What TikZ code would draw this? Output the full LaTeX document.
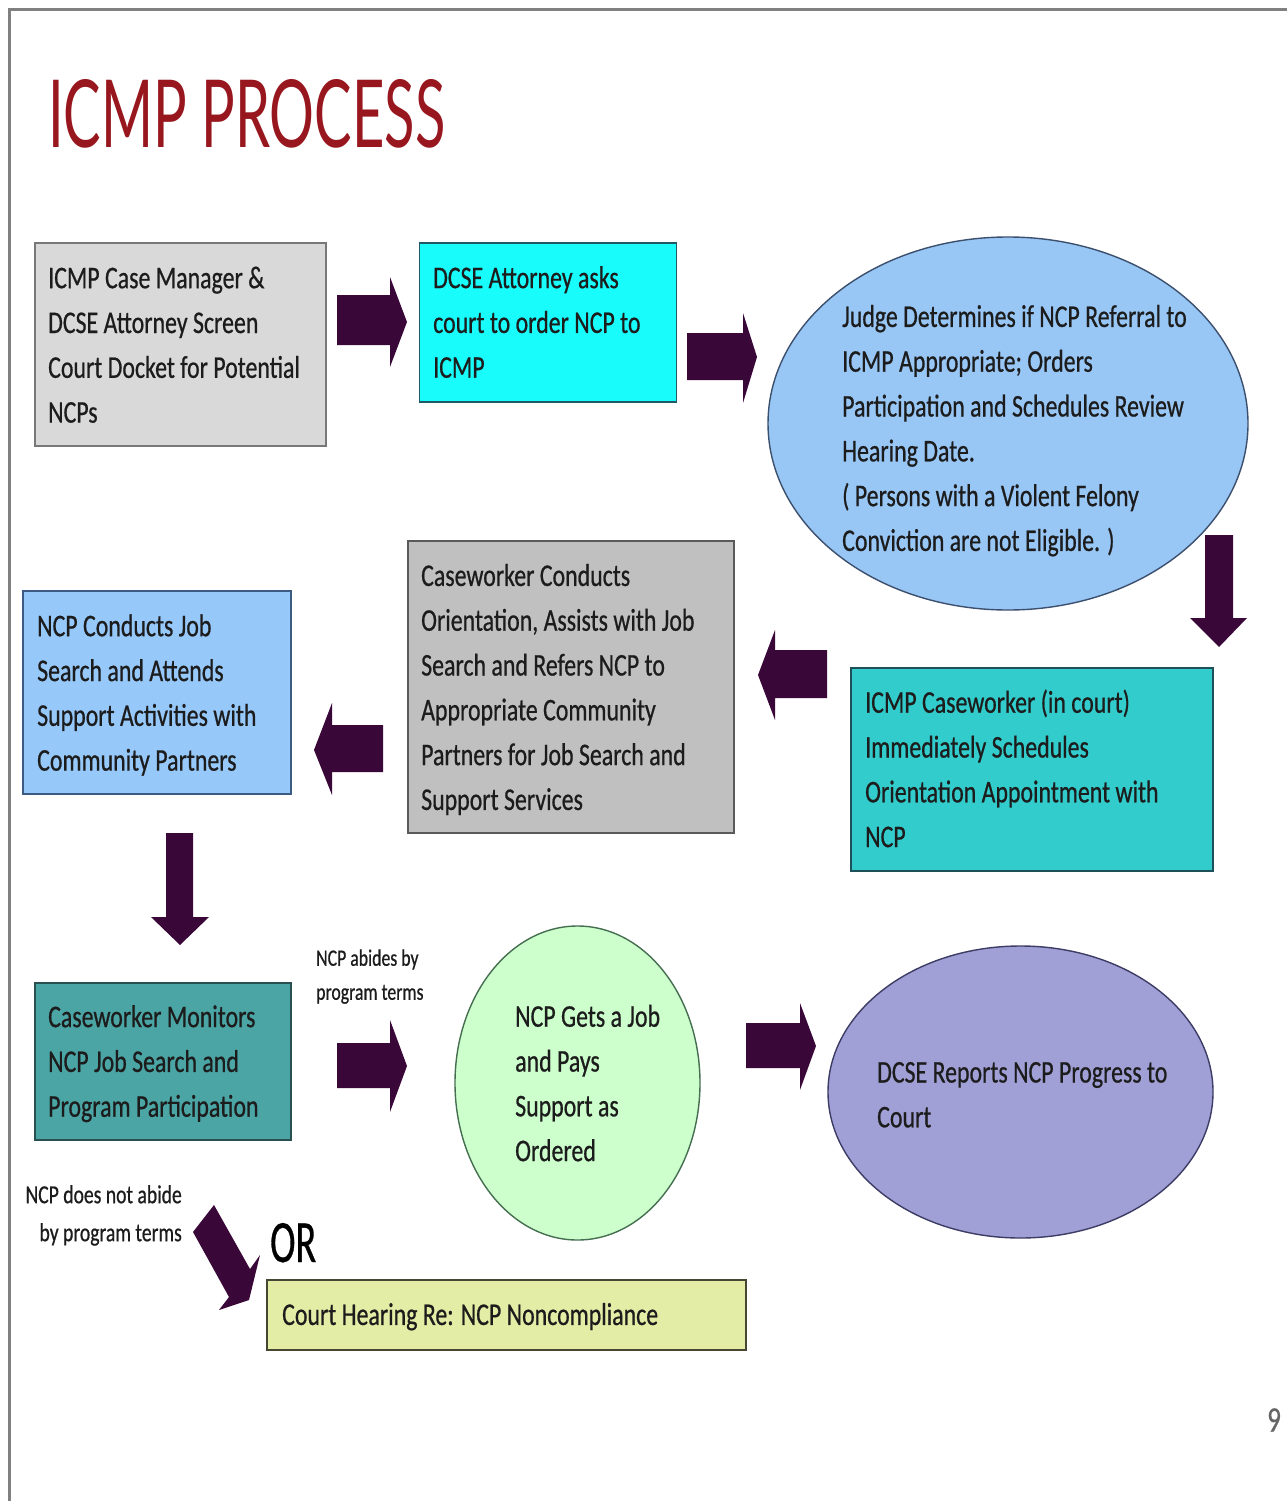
\documentclass[tikz,border=0pt]{standalone}
\usepackage{fontspec}
\usepackage{graphicx}
\setmainfont{Carlito}[FakeStretch=0.755,FakeBold=0.6]
\newfontfamily\titlefont{Lato}
\usetikzlibrary{shapes.geometric}
\definecolor{arrowc}{RGB}{58,8,56}
\definecolor{titlec}{RGB}{152,22,30}
\definecolor{txt}{RGB}{28,28,28}
\definecolor{fA}{RGB}{217,217,217}\definecolor{dA}{RGB}{120,120,120}
\definecolor{fB}{RGB}{25,252,252}\definecolor{dB}{RGB}{30,90,100}
\definecolor{fC}{RGB}{152,198,245}\definecolor{dC}{RGB}{60,80,110}
\definecolor{fD}{RGB}{51,204,204}\definecolor{dD}{RGB}{30,80,90}
\definecolor{fE}{RGB}{192,192,192}\definecolor{dE}{RGB}{90,90,90}
\definecolor{fF}{RGB}{150,200,250}\definecolor{dF}{RGB}{60,90,130}
\definecolor{fG}{RGB}{76,165,165}\definecolor{dG}{RGB}{40,80,80}
\definecolor{fH}{RGB}{204,255,204}\definecolor{dH}{RGB}{70,110,80}
\definecolor{fI}{RGB}{160,160,215}\definecolor{dI}{RGB}{60,60,100}
\definecolor{fJ}{RGB}{228,237,165}\definecolor{dJ}{RGB}{70,70,50}
\newcommand\ls{\rule[-0.38\baselineskip]{0pt}{0.98\baselineskip}}
\tikzset{
  boxshape/.style={rectangle, line width=1.6pt, inner sep=0pt},
  ellshape/.style={ellipse, line width=1.4pt, inner sep=0pt},
  bodytext/.style={anchor=west, align=left, inner sep=0pt, yshift=-5pt, text=txt, font=\fontsize{31.6}{44.8}\selectfont},
  smalltext/.style={inner sep=0pt, yshift=-4pt, text=txt},
  blockarrow/.style={fill=arrowc},
}
\begin{document}
\begin{tikzpicture}[x=1pt,y=-1pt]
\useasboundingbox (0,0) rectangle (1287,1501);
\fill[white] (0,0) rectangle (1287,1501);
% frame
\draw[line width=3pt, color=black!50] (9.5,1501) -- (9.5,9.5) -- (1287,9.5);
% title
\node[anchor=base west, inner sep=0pt, text=titlec] (title) at (48,147) {\resizebox{397pt}{68pt}{\titlefont ICMP PROCESS}};
% shapes
\node[boxshape, fill=fA, draw=dA, minimum width=291pt, minimum height=203pt] (b1) at (180.5,344.5) {};
\node[boxshape, fill=fB, draw=dB, minimum width=257pt, minimum height=159pt] (b2) at (548,322.5) {};
\node[ellshape, fill=fC, draw=dC, minimum width=480pt, minimum height=373pt] (e1) at (1008,423.5) {};
\node[boxshape, fill=fD, draw=dD, minimum width=362pt, minimum height=203pt] (b3) at (1032,769.5) {};
\node[boxshape, fill=fE, draw=dE, minimum width=326pt, minimum height=292pt] (b4) at (571,687) {};
\node[boxshape, fill=fF, draw=dF, minimum width=268pt, minimum height=203pt] (b5) at (157,692.5) {};
\node[boxshape, fill=fG, draw=dG, minimum width=256pt, minimum height=157pt] (b6) at (163,1061.5) {};
\node[ellshape, fill=fH, draw=dH, minimum width=245pt, minimum height=314pt] (e2) at (577.5,1083) {};
\node[ellshape, fill=fI, draw=dI, minimum width=385pt, minimum height=292pt] (e3) at (1020.5,1092) {};
\node[boxshape, fill=fJ, draw=dJ, minimum width=479pt, minimum height=70pt] (b7) at (506.5,1315) {};
% texts
\node[bodytext] (t1) at (48,345.5) {\ls ICMP Case Manager \&\\\ls DCSE Attorney Screen\\\ls Court Docket for Potential\\\ls NCPs};
\node[bodytext] (t2) at (433,323) {\ls DCSE Attorney asks\\\ls court to order NCP to\\\ls ICMP};
\node[bodytext] (t3) at (842,429) {\ls Judge Determines if NCP Referral to\\\ls ICMP Appropriate; Orders\\\ls Participation and Schedules Review\\\ls Hearing Date.\\\ls ( Persons with a Violent Felony\\\ls Conviction are not Eligible. )};
\node[bodytext] (t4) at (865,770) {\ls ICMP Caseworker (in court)\\\ls Immediately Schedules\\\ls Orientation Appointment with\\\ls NCP};
\node[bodytext] (t5) at (421,688) {\ls Caseworker Conducts\\\ls Orientation, Assists with Job\\\ls Search and Refers NCP to\\\ls Appropriate Community\\\ls Partners for Job Search and\\\ls Support Services};
\node[bodytext] (t6) at (37,693.5) {\ls NCP Conducts Job\\\ls Search and Attends\\\ls Support Activities with\\\ls Community Partners};
\node[bodytext] (t7) at (48,1062) {\ls Caseworker Monitors\\\ls NCP Job Search and\\\ls Program Participation};
\node[bodytext] (t8) at (515,1084) {\ls NCP Gets a Job\\\ls and Pays\\\ls Support as\\\ls Ordered};
\node[bodytext] (t9) at (877,1095) {\ls DCSE Reports NCP Progress to\\\ls Court};
\node[bodytext] (t10) at (282,1315) {\ls Court Hearing Re: NCP Noncompliance};
% small labels
\node[smalltext, anchor=west, align=left, font=\fontsize{23.5}{34}\selectfont] (l1) at (316,975) {\ls NCP abides by\\\ls program terms};
\node[smalltext, anchor=east, align=right, font=\fontsize{26}{38}\selectfont] (l2) at (182,1214) {\ls NCP does not abide\\\ls by program terms};
\node[anchor=base west, inner sep=0pt, text=black] (orlabel) at (270,1262) {\resizebox{46pt}{39pt}{OR}};
\node[inner sep=0pt, text=black!60, font=\fontsize{36}{40}\selectfont] (pagenum) at (1274,1420) {9};
% block arrows
\fill[blockarrow] (337,295) -- (390,295) -- (390,277) -- (407,322) -- (390,367) -- (390,345) -- (337,345) -- cycle;
\fill[blockarrow] (687,333) -- (743,333) -- (743,313) -- (757,357) -- (743,403) -- (743,380) -- (687,380) -- cycle;
\fill[blockarrow] (1205,535) -- (1233,535) -- (1233,618) -- (1247,618) -- (1219,647) -- (1190,618) -- (1205,618) -- cycle;
\fill[blockarrow] (827,650) -- (775,650) -- (775,630) -- (758,675) -- (775,720) -- (775,698) -- (827,698) -- cycle;
\fill[blockarrow] (383,725) -- (332,725) -- (332,703) -- (314,750) -- (332,795) -- (332,772) -- (383,772) -- cycle;
\fill[blockarrow] (166,833) -- (193,833) -- (193,917) -- (209,917) -- (180,945) -- (151,917) -- (166,917) -- cycle;
\fill[blockarrow] (337,1043) -- (390,1043) -- (390,1020) -- (407,1066) -- (390,1112) -- (390,1088) -- (337,1088) -- cycle;
\fill[blockarrow] (746,1023) -- (800,1023) -- (800,1003) -- (816,1046) -- (800,1090) -- (800,1068) -- (746,1068) -- cycle;
\fill[blockarrow] (193,1232) -- (214,1205) -- (250,1269) -- (260,1255) -- (249,1300) -- (219,1310) -- (229,1297) -- cycle;
\end{tikzpicture}
\end{document}
